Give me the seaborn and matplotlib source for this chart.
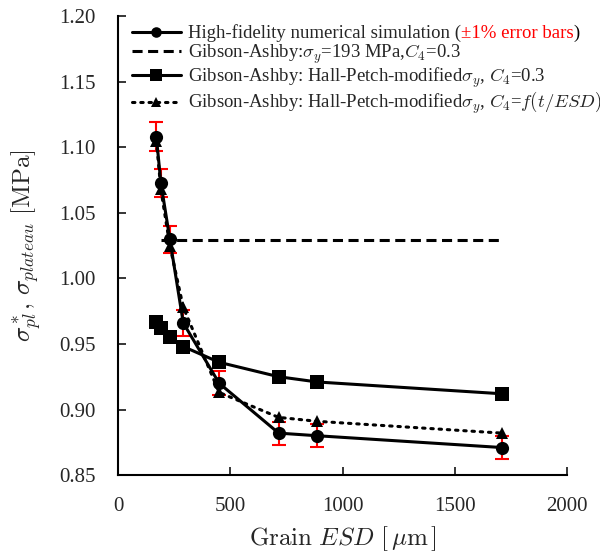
import numpy as np
import matplotlib
matplotlib.use("Agg")
import matplotlib.pyplot as plt
import seaborn as sns

# grain ESD [um] and plateau stresses [MPa]
esd = [170, 190, 230, 290, 450, 715, 887, 1710]
hifi = [1.108, 1.073, 1.030, 0.966, 0.920, 0.882, 0.880, 0.871]
hall_petch = [0.967, 0.962, 0.955, 0.948, 0.936, 0.925, 0.921, 0.912]
hall_petch_c4 = [1.105, 1.068, 1.025, 0.978, 0.913, 0.894, 0.891, 0.882]
gibson_esd = [190, 230, 290, 450, 715, 887, 1710]
gibson_const = [1.029] * len(gibson_esd)
err_frac = 0.01

x_ticks = [0, 500, 1000, 1500, 2000]
y_ticks = [0.85, 0.90, 0.95, 1.00, 1.05, 1.10, 1.15, 1.20]

sns.set_style("ticks")
plt.rcParams['font.family'] = ['Liberation Serif', 'DejaVu Serif']
plt.rcParams['mathtext.fontset'] = 'cm'

fig = plt.figure(figsize=(6.0, 5.55), dpi=100)
ax = fig.add_axes([0.197, 0.144, 0.748, 0.827])

# red +/-1% error bars behind the markers
hifi_arr = np.array(hifi)
ax.errorbar(esd, hifi, yerr=hifi_arr * err_frac, fmt='none', ecolor='red',
            elinewidth=1.5, capsize=5, capthick=1.5, zorder=1)

sns.lineplot(x=esd, y=hifi, ax=ax, sort=False, color='black', lw=2.2,
             marker='o', ms=9.5, mec='black', mew=0,
             label="High-fidelity numerical simulation (", zorder=3)
sns.lineplot(x=gibson_esd, y=gibson_const, ax=ax, sort=False, color='black',
             lw=2.2, ls=(0, (3.3, 1.8)),
             label=r"Gibson-Ashby:$\sigma_y$=193 MPa,$C_4$=0.3", zorder=2)
sns.lineplot(x=esd, y=hall_petch, ax=ax, sort=False, color='black', lw=2.2,
             marker='s', ms=10.5, mec='black', mew=0,
             label=r"Gibson-Ashby: Hall-Petch-modified$\sigma_y$, $C_4$=0.3", zorder=3)
sns.lineplot(x=esd, y=hall_petch_c4, ax=ax, sort=False, color='black', lw=2.2,
             ls=(0, (0.8, 1.9)), dash_capstyle='round', marker='^', ms=9,
             mec='black', mew=0,
             label=r"Gibson-Ashby: Hall-Petch-modified$\sigma_y$, $C_4$=$f(t/ESD)$",
             zorder=3)

ax.set_xlim(0, 2000)
ax.set_ylim(0.85, 1.20)
ax.set_xticks(x_ticks)
ax.set_yticks(y_ticks)
ax.set_yticklabels([f"{v:.2f}" for v in y_ticks])
ax.tick_params(direction='in', length=6, width=1.3, labelsize=15, pad=16)
for side in ['top', 'right']:
    ax.spines[side].set_visible(False)
for side in ['left', 'bottom']:
    ax.spines[side].set_linewidth(1.5)
    ax.spines[side].set_color('black')

ax.set_xlabel(r"$\mathrm{Grain}\ ESD\ [\,\mu\mathrm{m}\,]$", fontsize=18, labelpad=6)
ax.set_ylabel(r"$\sigma^*_{pl},\,\sigma_{plateau}\ [\mathrm{MPa}]$",
              fontsize=18, labelpad=12)

leg = ax.legend(loc='upper left', bbox_to_anchor=(0.031, 0.982), frameon=False,
                fontsize=13.5, handlelength=2.6, handletextpad=0.37,
                labelspacing=0.0, borderpad=0, borderaxespad=0, markerscale=0.8)

# colour the "±1% error bars" part of the first legend entry
first = leg.get_texts()[0]
red = ax.annotate("±1% error bars", xy=(1, 0), xycoords=first, va='bottom',
                  ha='left', color='red', fontsize=13.5, zorder=6)
ax.annotate(")", xy=(1, 0), xycoords=red, va='bottom', ha='left',
            color='black', fontsize=13.5, zorder=6)

fig.savefig("out.png", dpi=100)
